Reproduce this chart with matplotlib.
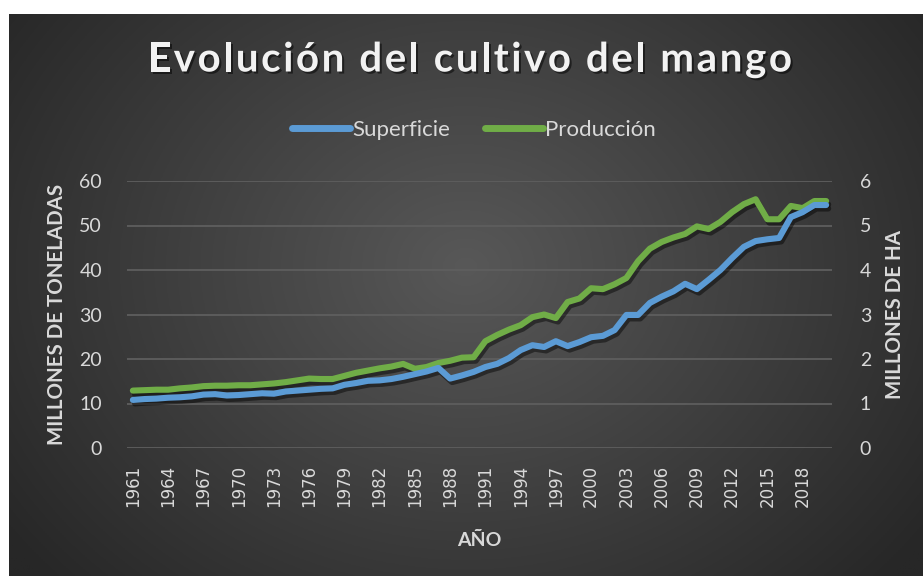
import numpy as np
import matplotlib
matplotlib.use("Agg")
import matplotlib.pyplot as plt
from matplotlib.lines import Line2D
import matplotlib.patheffects as pe

years = list(range(1961, 2021))
produccion = [12.9, 13.0, 13.1, 13.1, 13.4, 13.6, 13.9, 14.0, 14.0, 14.1,
              14.1, 14.3, 14.5, 14.8, 15.2, 15.6, 15.5, 15.5, 16.2, 16.9,
              17.4, 17.9, 18.3, 18.9, 17.8, 18.2, 19.1, 19.6, 20.3, 20.4,
              24.0, 25.4, 26.6, 27.6, 29.4, 30.0, 29.2, 32.8, 33.6, 35.9,
              35.7, 36.8, 38.2, 42.0, 44.8, 46.3, 47.3, 48.1, 49.8, 49.2,
              50.8, 53.0, 54.8, 55.9, 51.4, 51.4, 54.4, 53.9, 55.5, 55.5]
superficie = [1.08, 1.10, 1.11, 1.13, 1.14, 1.16, 1.20, 1.21, 1.18, 1.19,
              1.21, 1.23, 1.22, 1.27, 1.29, 1.31, 1.33, 1.34, 1.42, 1.46,
              1.51, 1.52, 1.55, 1.60, 1.66, 1.72, 1.80, 1.56, 1.63, 1.71,
              1.82, 1.89, 2.02, 2.20, 2.31, 2.27, 2.40, 2.29, 2.38, 2.49,
              2.52, 2.65, 2.99, 2.99, 3.26, 3.40, 3.52, 3.69, 3.57, 3.78,
              4.00, 4.27, 4.52, 4.65, 4.69, 4.72, 5.19, 5.30, 5.46, 5.46]
left_ticks = [0, 10, 20, 30, 40, 50, 60]
right_ticks = [0, 1, 2, 3, 4, 5, 6]
title = "Evolución del cultivo del mango"

BLUE = "#5B9BD5"
GREEN = "#70AD47"
TXT = "#d9d9d9"
FONT = "Lato"

W, H = 923, 576
fig = plt.figure(figsize=(W / 100, H / 100), dpi=100)
fig.patch.set_facecolor("white")

# background radial gradient
bg = fig.add_axes([9 / W, 0, 1 - 9 / W, (H - 14) / H], zorder=-10)
yy, xx = np.mgrid[0:1:300j, 0:1:480j]
r = np.sqrt(((xx - 0.5) * 1.0) ** 2 + ((yy - 0.45) * 0.75) ** 2)
r = np.clip(r / 0.62, 0, 1)
c0, c1 = 0x58 / 255, 0x27 / 255
val = c0 + (c1 - c0) * r
img = np.dstack([val, val, val])
bg.imshow(img, aspect="auto", extent=[0, 1, 0, 1], origin="upper")
bg.set_axis_off()

ax = fig.add_axes([127 / W, 1 - 448 / H, (832 - 127) / W, (448 - 181) / H])
ax.set_facecolor("none")
ax2 = ax.twinx()
ax2.set_facecolor("none")

x = np.arange(len(years))
shadow = [pe.SimpleLineShadow(offset=(1.5, -2.5), shadow_color="black", alpha=0.45),
          pe.Normal()]
ax.plot(x, produccion, color=GREEN, lw=4.4, solid_capstyle="round",
        solid_joinstyle="round", path_effects=shadow, zorder=3)
ax2.plot(x, superficie, color=BLUE, lw=4.4, solid_capstyle="round",
         solid_joinstyle="round", path_effects=shadow, zorder=3)

ax.set_xlim(-0.5, len(years) - 0.5)
ax.set_ylim(0, 60)
ax2.set_ylim(0, 6)
ax.set_yticks(left_ticks)
ax2.set_yticks(right_ticks)
ax.grid(axis="y", color="#5e5e5e", lw=1.3)
ax.set_axisbelow(True)
for a in (ax, ax2):
    for s in a.spines.values():
        s.set_visible(False)
    a.tick_params(length=0)

ax.set_yticklabels([str(v) for v in left_ticks], fontsize=14, color=TXT, family=FONT)
ax2.set_yticklabels([str(v) for v in right_ticks], fontsize=14, color=TXT, family=FONT)
ax.tick_params(axis="y", pad=18)
ax2.tick_params(axis="y", pad=20)

tick_idx = x[::3]
ax.set_xticks(tick_idx)
ax.set_xticklabels([str(years[i]) for i in tick_idx], rotation=90,
                   fontsize=12, color=TXT, family="DejaVu Sans")
ax.tick_params(axis="x", pad=12)

ax.set_ylabel("MILLONES DE TONELADAS", fontsize=14.8, fontweight="bold",
              color=TXT, family=FONT, labelpad=9)
ax2.set_ylabel("MILLONES DE HA", fontsize=14.8, fontweight="bold",
               color=TXT, family=FONT, rotation=90, labelpad=10)
ax.set_xlabel("AÑO", fontsize=14, fontweight="bold", color=TXT,
              family=FONT, labelpad=18)

# letter-spaced title
fig.canvas.draw()
renderer = fig.canvas.get_renderer()
tprops = dict(fontsize=29, fontweight="bold", family=FONT)


def tw(s):
    t = fig.text(0, 0, s, **tprops)
    w = t.get_window_extent(renderer).width
    t.remove()
    return w


bar_w = tw("|")
pos = [tw(title[:k] + "|") - bar_w if k > 0 else 0.0 for k in range(len(title))]
full = tw(title)
target = 644.0
sp = (target - full) / (len(title) - 1)
x0 = 470 - target / 2
for k, ch in enumerate(title):
    if ch == " ":
        continue
    px = x0 + pos[k] + k * sp
    fig.text(px / W, 1 - 60 / H, ch, color="#f2f2f2", ha="left", va="center",
             path_effects=[pe.withSimplePatchShadow(offset=(1.5, -1.5),
                                                    shadow_rgbFace="black", alpha=0.5)],
             **tprops)

handles = [Line2D([0], [0], color=BLUE, lw=5, solid_capstyle="round"),
           Line2D([0], [0], color=GREEN, lw=5, solid_capstyle="round")]
fig.legend(handles, ["Superficie", "Producción"], loc="center",
           bbox_to_anchor=(474 / W, 1 - 130 / H), ncol=2, frameon=False,
           handlelength=2.6, handletextpad=0.1, columnspacing=1.6,
           prop={"family": FONT, "size": 16}, labelcolor=TXT)

fig.savefig("out.png", dpi=100, facecolor="white")
